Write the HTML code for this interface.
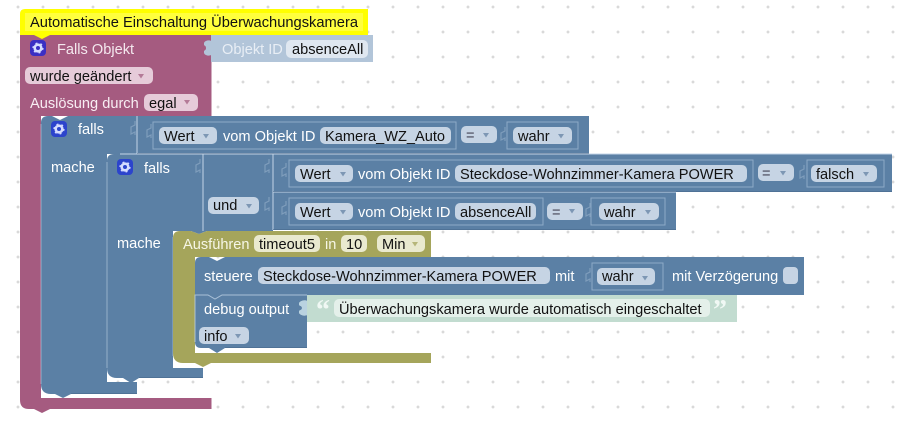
<!DOCTYPE html>
<html><head><meta charset="utf-8"><style>
html,body{margin:0;padding:0;background:#fff;width:914px;height:422px;overflow:hidden}
svg{display:block}
text{font-family:"Liberation Sans",Arial,sans-serif;font-size:14.6px}
.w{fill:#fff}.k{fill:#111}
.l{fill:none;stroke:#8eaac7;stroke-width:1}
.h{fill:none;stroke:#c3d5e8;stroke-width:1}
.n{fill:none;stroke:#7f9dbc;stroke-width:1.2}
.d{fill:none;stroke:#47698c;stroke-width:1}
.f{fill:#c6d4e4}
</style></head><body>
<svg width="914" height="422" viewBox="0 0 914 422" xmlns="http://www.w3.org/2000/svg">
<defs>
<pattern id="g" x="14" y="3" width="25" height="25" patternUnits="userSpaceOnUse"><path d="M4 2.500v3M2.500 4h3" stroke="#ccc" stroke-width="1"/></pattern>
<path id="t" d="M0 0h6l-3 4.500z"/>
<path id="c" d="M5 0v4l-4 2v7l4-2v3" fill="none" stroke="#7f9dbc" stroke-width="1.200"/>
<g id="gear"><rect width="16" height="16" rx="4"/><circle cx="8" cy="8" r="3.300" fill="none" stroke="#d5dcff" stroke-width="2.600"/><circle cx="8" cy="8" r="5" fill="none" stroke="#d5dcff" stroke-width="1.200" stroke-dasharray="2 3.200"/></g>
</defs>
<rect width="914" height="422" fill="#fff"/><rect width="914" height="422" fill="url(#g)"/>

<!-- pink hat -->
<path d="M20 35H211.500V116H41V398H211.500V409H50L42 413 34 409H29Q20 409 20 400Z" fill="#a55b80"/>
<!-- object id -->
<path d="M211 35H373V62H211V55c-1 1-6 1-7-2v-2c1-1 2-1 2-3s-1-2-2-3v-2c1-3 6-3 7-2Z" fill="#b2c5d9"/>
<rect x="286" y="40" width="82" height="18" rx="5" fill="#dfe7f0"/>
<text x="222" y="54" fill="#e8eef5">Objekt ID</text><text x="292" y="54" class="k">absenceAll</text>

<!-- outer falls -->
<path d="M48 116H52L60 120 68 116H589V153H137V154H107V382H137V394H71L63 398 55 394H51Q41 394 41 384V123Q41 116 48 116Z" fill="#5b80a5"/>
<!-- inner falls -->
<path d="M114 154H892V192H676V230H273V231H207L199 234 191 231H173V368H203V378H139L131 383 123 378H117Q107 378 107 368V161Q107 154 114 154Z" fill="#5b80a5"/>

<path d="M153 122H456V149H153ZM507 122H578V149H507ZM289 160H753V187H289ZM807 160H884V187H807ZM289 198H543V225H289ZM591 198H665V225H591Z" class="l"/>
<path d="M137 116V154M120 154H892M203 154V231M273 154V230M273 192H676" class="h"/>
<path d="M107 162V368M41 124V384M173 237V356" class="h" opacity=".55"/>
<path d="M137 153.500H589" class="d" opacity=".6"/>
<path d="M107 377.500" class="d"/>
<use href="#c" x="130" y="121"/><use href="#c" x="146" y="124"/><use href="#c" x="195" y="159"/><use href="#c" x="264" y="159"/><use href="#c" x="281" y="163"/><use href="#c" x="264" y="197"/><use href="#c" x="281" y="201"/><use href="#c" x="500" y="127"/><use href="#c" x="799" y="165"/><use href="#c" x="585" y="203"/>

<!-- icons -->
<use href="#gear" x="30" y="40" fill="#3a2fc4"/>
<use href="#gear" x="51" y="121" fill="#2c44cc"/>
<use href="#gear" x="117" y="159" fill="#2c44cc"/>

<!-- pink fields -->
<rect x="25" y="67" width="128" height="17" rx="5" fill="#e6cbd9"/>
<rect x="144" y="94" width="54" height="17" rx="5" fill="#e6cbd9"/>

<!-- yellow comment -->
<path d="M25 9H368V35H50L42 39 34 35H20V14Q20 9 25 9Z" fill="#ffff00"/>
<rect x="25" y="13" width="338" height="18" fill="#ffff66" opacity=".6"/>
<text x="30" y="27" class="k" textLength="328" lengthAdjust="spacingAndGlyphs">Automatische Einschaltung Überwachungskamera</text>

<!-- pink text -->
<text x="57" y="54" fill="#f4e8ee">Falls Objekt</text>
<text x="30" y="81" class="k">wurde geändert</text><use href="#t" x="138" y="74" fill="#b47a97"/>
<text x="30" y="108" fill="#f8eef3">Auslösung durch</text>
<text x="149" y="108" class="k">egal</text><use href="#t" x="184" y="100" fill="#b47a97"/>

<!-- blue labels and fields -->
<text x="78" y="134" class="w">falls</text><text x="51" y="172" class="w">mache</text>
<text x="144" y="173" class="w">falls</text><text x="117" y="248" class="w">mache</text>

<rect class="f" x="159" y="127" width="58" height="17" rx="5"/><rect class="f" x="320" y="127" width="131" height="17" rx="5"/>
<rect class="f" x="461" y="126" width="36" height="17" rx="5"/><rect class="f" x="513" y="127" width="59" height="17" rx="5"/>
<rect class="f" x="208" y="197" width="51" height="17" rx="5"/>
<rect class="f" x="295" y="165" width="58" height="17" rx="5"/><rect class="f" x="455" y="165" width="292" height="17" rx="5"/>
<rect class="f" x="758" y="164" width="36" height="17" rx="5"/><rect class="f" x="811" y="165" width="66" height="17" rx="5"/>
<rect class="f" x="295" y="203" width="58" height="17" rx="5"/><rect class="f" x="455" y="203" width="81" height="17" rx="5"/>
<rect class="f" x="547" y="203" width="36" height="17" rx="5"/><rect class="f" x="599" y="203" width="60" height="17" rx="5"/>

<text x="164" y="141" class="k">Wert</text><text x="325" y="141" class="k">Kamera_WZ_Auto</text>
<text x="466" y="140" fill="#445">=</text><text x="518" y="141" class="k">wahr</text>
<text x="213" y="210" class="k">und</text>
<text x="300" y="179" class="k">Wert</text><text x="460" y="179" class="k">Steckdose-Wohnzimmer-Kamera POWER</text>
<text x="762" y="178" fill="#445">=</text><text x="816" y="179" class="k">falsch</text>
<text x="300" y="217" class="k">Wert</text><text x="460" y="217" class="k">absenceAll</text>
<text x="552" y="217" fill="#445">=</text><text x="604" y="217" class="k">wahr</text>
<text x="223" y="141" class="w">vom Objekt ID</text>
<text x="358" y="179" class="w">vom Objekt ID</text><text x="358" y="217" class="w">vom Objekt ID</text>
<g fill="#7d97b4">
<use href="#t" x="203" y="134"/><use href="#t" x="483" y="133"/><use href="#t" x="558" y="134"/>
<use href="#t" x="246" y="204"/>
<use href="#t" x="340" y="172"/><use href="#t" x="780" y="171"/><use href="#t" x="863" y="172"/>
<use href="#t" x="340" y="210"/><use href="#t" x="569" y="209"/><use href="#t" x="645" y="210"/>
</g>

<!-- olive -->
<path d="M180 231H191L199 234 207 231H431V257H195V353H431V363H211L203 367 195 363H183Q173 363 173 353V238Q173 231 180 231Z" fill="#a5a55b"/>
<g fill="#e9e9cf"><rect x="254" y="235" width="66" height="17" rx="5"/><rect x="341" y="235" width="26" height="17" rx="5"/><rect x="377" y="235" width="48" height="17" rx="5"/></g>
<text x="183" y="249" fill="#f6f6e6">Ausführen</text><text x="325" y="249" fill="#f6f6e6">in</text>
<text x="259" y="249" class="k">timeout5</text><text x="346" y="249" class="k">10</text><text x="382" y="249" class="k">Min</text>
<use href="#t" x="412" y="242" fill="#b6b67a"/>

<!-- steuere -->
<path d="M201 257H209L217 261 225 257H804V295H195V263Q195 257 201 257Z" fill="#5b80a5"/>
<rect class="f" x="258" y="267" width="292" height="17" rx="5"/>
<path d="M592 263H663V290H592Z" class="l"/>
<use href="#c" x="585" y="268"/>
<rect class="f" x="597" y="268" width="58" height="17" rx="5"/>
<rect class="f" x="783" y="267" width="15" height="17" rx="4"/>
<text x="204" y="281" class="w">steuere</text><text x="263" y="281" class="k">Steckdose-Wohnzimmer-Kamera POWER</text>
<text x="555" y="281" class="w">mit</text><text x="602" y="281" class="k">wahr</text><use href="#t" x="642" y="276" fill="#7d97b4"/>
<text x="672" y="281" class="w">mit Verzögerung</text>

<!-- debug and string -->
<path d="M195 295H307V348H225L217 353 209 348H201Q195 348 195 342Z" fill="#5b80a5"/>
<path d="M195 342V295H208L215 299 222 295H307" class="h" opacity=".75"/>
<path d="M307 295H737V322H307V315c-1 1-6 1-8-2v-2c1-1 3-1 3-3s-2-2-3-3v-2c2-3 7-3 8-2Z" fill="#c2dcd0"/>
<path d="M307 301c-1-1-6-1-8 2v2c1 1 3 1 3 3s-2 2-3 3v2c2 3 7 3 8 2Z" fill="#b9d2e0"/>
<rect x="334" y="299" width="376" height="18" rx="5" fill="#e4f0ea"/>
<rect class="f" x="199" y="327" width="50" height="17" rx="5"/>
<text x="204" y="314" class="w">debug output</text>
<text x="339" y="314" class="k">Überwachungskamera wurde automatisch eingeschaltet</text>
<text x="204" y="341" class="k">info</text><use href="#t" x="235" y="334" fill="#7d97b4"/>
<text x="316" y="319" fill="#f0f8f4" style='font-family:"Liberation Serif",serif;font-size:28px;font-weight:bold'>“</text>
<text x="713" y="319" fill="#f0f8f4" style='font-family:"Liberation Serif",serif;font-size:28px;font-weight:bold'>”</text>

<!-- dark bottom edges -->
<path d="M139 377.500H203M71 393.500H137M225 347.500H307M273 191.500H892M273 229.500H676" class="d" opacity=".6"/>
</svg>
</body></html>
